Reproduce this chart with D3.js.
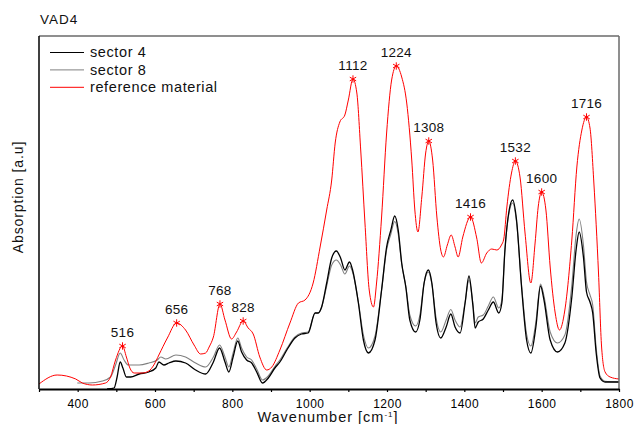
<!DOCTYPE html>
<html>
<head>
<meta charset="utf-8">
<script src="https://cdn.jsdelivr.net/npm/d3@7"></script>
<style>
  html, body { margin: 0; padding: 0; background: #fff; }
  svg { display: block; font-family: "Liberation Sans", Arial, sans-serif; }
</style>
</head>
<body>
<svg id="chart" width="634" height="424"></svg>
<script>
// FTIR absorption spectra, VAD4 sample
const sector4Wn = [476,494,502,510,517,526,537,559,584,602,610,623,636,654,679,705,731,751,767,781,791,802,814,824,837,850,863,878,893,910,923,941,962,979,996,1014,1022,1031,1044,1057,1069,1080,1091,1103,1111,1126,1139,1152,1169,1186,1199,1210,1220,1229,1238,1249,1259,1274,1285,1296,1307,1316,1327,1339,1353,1365,1376,1389,1402,1412,1422,1428,1436,1449,1462,1475,1489,1497,1505,1516,1525,1535,1548,1561,1572,1585,1597,1606,1622,1641,1660,1678,1689,1697,1708,1716,1725,1732,1741,1751,1764,1800];
const sector4Abs = [0.00,0.01,0.12,0.27,0.21,0.12,0.12,0.15,0.17,0.21,0.27,0.24,0.26,0.28,0.26,0.19,0.15,0.27,0.41,0.27,0.17,0.32,0.48,0.37,0.29,0.26,0.17,0.06,0.11,0.21,0.27,0.39,0.51,0.55,0.56,0.76,0.76,0.82,1.06,1.31,1.38,1.31,1.19,1.27,1.19,0.86,0.49,0.36,0.49,0.99,1.42,1.59,1.73,1.59,1.26,1.01,0.69,0.57,0.69,1.06,1.19,1.06,0.66,0.51,0.62,0.75,0.62,0.56,0.86,1.13,0.84,0.61,0.67,0.70,0.79,0.87,0.76,0.86,1.39,1.79,1.89,1.69,1.02,0.49,0.36,0.62,1.03,0.89,0.49,0.37,0.46,0.92,1.39,1.57,1.32,0.97,0.87,0.76,0.36,0.11,0.07,0.07];

const sector8Wn = [399,429,464,485,498,510,520,531,559,584,606,615,628,654,679,705,731,751,767,781,791,802,814,824,837,850,863,878,893,910,923,941,962,979,996,1014,1022,1031,1044,1057,1069,1080,1091,1103,1111,1126,1139,1152,1169,1186,1199,1210,1220,1229,1238,1249,1259,1274,1285,1296,1307,1316,1327,1339,1353,1365,1376,1389,1402,1412,1422,1428,1436,1449,1462,1475,1489,1497,1505,1516,1525,1535,1548,1561,1572,1585,1597,1606,1622,1641,1660,1678,1689,1697,1708,1716,1725,1732,1741,1751,1764,1800];
const sector8Abs = [0.06,0.06,0.08,0.12,0.24,0.36,0.29,0.24,0.24,0.26,0.29,0.32,0.30,0.34,0.32,0.26,0.22,0.32,0.44,0.32,0.22,0.36,0.51,0.41,0.32,0.29,0.20,0.09,0.13,0.225,0.29,0.405,0.52,0.56,0.57,0.76,0.76,0.82,1.03,1.24,1.29,1.24,1.15,1.23,1.17,0.87,0.54,0.41,0.53,0.99,1.39,1.55,1.675,1.55,1.25,1.02,0.74,0.63,0.74,1.06,1.17,1.05,0.71,0.57,0.69,0.795,0.69,0.62,0.87,1.09,0.86,0.66,0.72,0.74,0.83,0.92,0.81,0.89,1.39,1.77,1.86,1.67,1.04,0.55,0.43,0.67,1.05,0.93,0.57,0.46,0.54,1.04,1.54,1.70,1.44,1.07,0.94,0.84,0.41,0.13,0.077,0.07];

const referenceWn = [300,347,395,412,438,472,485,498,516,526,535,546,567,584,597,610,632,656,679,701,718,731,740,751,768,781,798,811,828,841,854,871,889,902,923,949,971,988,1009,1027,1044,1057,1066,1078,1091,1100,1112,1122,1132,1143,1154,1165,1173,1186,1199,1212,1224,1238,1251,1264,1272,1280,1290,1300,1308,1318,1329,1339,1346,1356,1366,1376,1384,1396,1416,1432,1444,1458,1471,1484,1496,1502,1510,1522,1532,1544,1557,1572,1583,1591,1600,1611,1622,1635,1646,1660,1678,1691,1704,1716,1725,1735,1747,1755,1764,1777,1800];
const referenceAbs = [0.05,0.14,0.10,0.06,0.04,0.06,0.12,0.29,0.43,0.32,0.21,0.16,0.16,0.18,0.24,0.34,0.51,0.66,0.59,0.44,0.35,0.36,0.42,0.52,0.85,0.69,0.50,0.57,0.68,0.61,0.55,0.32,0.19,0.22,0.39,0.66,0.86,0.89,1.06,1.42,1.79,2.09,2.46,2.67,2.74,2.89,3.10,2.96,2.39,1.66,0.99,0.82,1.06,1.72,2.56,3.09,3.23,3.12,2.86,2.29,1.79,1.57,1.92,2.36,2.48,2.29,1.72,1.39,1.32,1.44,1.54,1.42,1.32,1.52,1.72,1.51,1.26,1.36,1.40,1.39,1.44,1.50,1.82,2.16,2.28,2.12,1.56,1.06,1.46,1.82,1.97,1.79,1.22,0.76,0.59,0.79,1.49,2.22,2.59,2.72,2.61,2.06,1.16,0.42,0.17,0.12,0.10];

// Marked band positions on the reference spectrum
const peakWn = [516,656,768,828,1112,1224,1308,1416,1532,1600,1716];

const xTicks = [300,400,500,600,700,800,900,1000,1100,1200,1300,1400,1500,1600,1700,1800];
const xTickLabels = ["","400","","600","","800","","1000","","1200","","1400","","1600","","1800"];

const seriesNames = ["sector 4", "sector 8", "reference material"];
const seriesColors = ["#000000", "#808080", "#ff0000"];

const svg = d3.select("#chart");
const m = { left: 39, right: 619, top: 36, bottom: 389 };

const x = d3.scaleLinear().domain([300, 1800]).range([m.left, m.right]);
const y = d3.scaleLinear().domain([0, 3.53]).range([m.bottom, m.top]);

svg.append("defs").append("clipPath").attr("id", "plotClip")
  .append("rect").attr("x", m.left).attr("y", m.top)
  .attr("width", m.right - m.left).attr("height", m.bottom - m.top);

const toPts = (wn, ab) => wn.map((w, i) => [w, ab[i]]);
const line = d3.line().x(d => x(d[0])).y(d => y(d[1])).curve(d3.curveMonotoneX);

const plot = svg.append("g").attr("clip-path", "url(#plotClip)");
const series = [
  { pts: toPts(sector8Wn, sector8Abs), color: seriesColors[1], w: 1.1 },
  { pts: toPts(sector4Wn, sector4Abs), color: seriesColors[0], w: 1.3 },
  { pts: toPts(referenceWn, referenceAbs), color: seriesColors[2], w: 1.0 }
];
series.forEach(s => {
  plot.append("path").datum(s.pts)
    .attr("fill", "none").attr("stroke", s.color)
    .attr("stroke-width", s.w).attr("stroke-linejoin", "round")
    .attr("d", line);
});

// frame: top and right in grey
svg.append("line").attr("x1", m.left).attr("x2", m.right).attr("y1", m.top).attr("y2", m.top)
  .attr("stroke", "#6a6a6a").attr("stroke-width", 1.5);
svg.append("line").attr("x1", m.right).attr("x2", m.right).attr("y1", m.top).attr("y2", m.bottom)
  .attr("stroke", "#6a6a6a").attr("stroke-width", 1.5);
// left axis
svg.append("line").attr("x1", m.left).attr("x2", m.left).attr("y1", m.top).attr("y2", m.bottom)
  .attr("stroke", "#000").attr("stroke-width", 1.5);

// bottom axis
const xAxis = d3.axisBottom(x).tickValues(xTicks)
  .tickFormat((d, i) => xTickLabels[i]).tickSizeInner(3).tickSizeOuter(0).tickPadding(7);
const gx = svg.append("g").attr("transform", `translate(0,${m.bottom})`).call(xAxis);
gx.select(".domain").attr("stroke", "#000").attr("stroke-width", 2);
gx.selectAll(".tick line").attr("stroke", "#000").attr("stroke-width", 1.2);
gx.selectAll(".tick text").attr("fill", "#000")
  .style("font-size", "12px").style("letter-spacing", "0.5px")
  .style("font-family", "'Liberation Sans', Arial, sans-serif");

// peak markers and labels on the reference spectrum
const peaks = peakWn.map(w => [w, referenceAbs[referenceWn.indexOf(w)]]);
const star = d3.symbol().type(d3.symbolAsterisk).size(38);
svg.append("g").selectAll("path").data(peaks).join("path")
  .attr("transform", d => `translate(${x(d[0])},${y(d[1])})`)
  .attr("d", star).attr("fill", "none").attr("stroke", "#ff0000").attr("stroke-width", 1);
svg.append("g").selectAll("text").data(peaks).join("text")
  .attr("x", d => x(d[0])).attr("y", d => y(d[1]) - 9)
  .attr("text-anchor", "middle").attr("fill", "#111")
  .style("font-size", "13.5px").style("letter-spacing", "0.3px")
  .text(d => d[0]);

// title
svg.append("text").attr("x", 40).attr("y", 23.5).attr("fill", "#111")
  .style("font-size", "13.5px").style("letter-spacing", "1px").text("VAD4");

// legend
const legend = svg.append("g");
seriesNames.forEach((name, i) => {
  const ly = 52.5 + i * 17.4;
  legend.append("line").attr("x1", 50).attr("x2", 84).attr("y1", ly).attr("y2", ly)
    .attr("stroke", seriesColors[i]).attr("stroke-width", i === 0 ? 1.2 : 1);
  legend.append("text").attr("x", 90).attr("y", ly + 4.8).attr("fill", "#111")
    .style("font-size", "14.5px").style("letter-spacing", "0.6px").text(name);
});

// axis titles
svg.append("text")
  .attr("transform", "translate(23,197) rotate(-90)")
  .attr("text-anchor", "middle").attr("fill", "#111")
  .style("font-size", "14px").style("letter-spacing", "0.9px")
  .text("Absorption [a.u]");

const xt = svg.append("text").attr("x", 328).attr("y", 422)
  .attr("text-anchor", "middle").attr("fill", "#111")
  .style("font-size", "14.5px").style("letter-spacing", "1px");
xt.append("tspan").text("Wavenumber [cm");
xt.append("tspan").attr("dy", -5).style("font-size", "8px").text("-1");
xt.append("tspan").attr("dy", 5).text("]");
</script>
</body>
</html>
